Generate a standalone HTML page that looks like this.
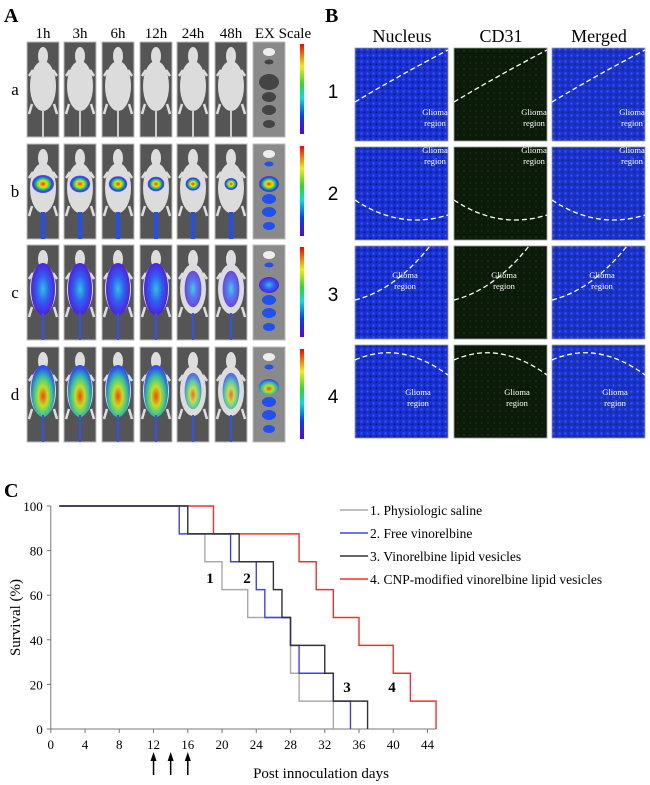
<!DOCTYPE html>
<html><head><meta charset="utf-8"><style>
body{margin:0;background:#fff;width:650px;height:785px;overflow:hidden;font-family:"Liberation Serif",serif;}
svg{display:block}
</style></head><body>
<svg id="fig" width="650" height="785" viewBox="0 0 650 785">
<defs>
<radialGradient id="hotB" cx="50%" cy="50%" r="50%"><stop offset="0" stop-color="#ff3000"/><stop offset="0.35" stop-color="#f0e000"/><stop offset="0.6" stop-color="#20d060"/><stop offset="0.85" stop-color="#2040ff"/><stop offset="1" stop-color="#6020e0" stop-opacity="0.8"/></radialGradient>
<radialGradient id="bluC" cx="50%" cy="50%" r="50%"><stop offset="0" stop-color="#30c0e0"/><stop offset="0.5" stop-color="#3060f0"/><stop offset="1" stop-color="#5020e0"/></radialGradient>
<radialGradient id="hotD" cx="50%" cy="60%" r="55%"><stop offset="0" stop-color="#ff4010"/><stop offset="0.35" stop-color="#c0e020"/><stop offset="0.7" stop-color="#30c0a0"/><stop offset="1" stop-color="#3050f0"/></radialGradient>
<linearGradient id="scale" x1="0" y1="1" x2="0" y2="0"><stop offset="0" stop-color="#6000e0"/><stop offset="0.2" stop-color="#0040ff"/><stop offset="0.4" stop-color="#00e0e0"/><stop offset="0.55" stop-color="#20e020"/><stop offset="0.75" stop-color="#f0f000"/><stop offset="1" stop-color="#ff0000"/></linearGradient>
<pattern id="nuc" width="6" height="6" patternUnits="userSpaceOnUse"><rect width="6" height="6" fill="#1830d0"/><circle cx="1.5" cy="1.5" r="1.2" fill="#3050ff"/><circle cx="4.5" cy="4.2" r="1" fill="#0a1a80"/></pattern>
<pattern id="grn" width="6" height="6" patternUnits="userSpaceOnUse"><rect width="6" height="6" fill="#0c1a0a"/><circle cx="2" cy="3" r="1" fill="#14300e"/></pattern>
<pattern id="mrg" width="6" height="6" patternUnits="userSpaceOnUse"><rect width="6" height="6" fill="#1a30c8"/><circle cx="1.5" cy="1.5" r="1.2" fill="#3050ff"/><circle cx="4.5" cy="4.2" r="1" fill="#10307a"/></pattern>
</defs>
<text x="4" y="22" font-size="20" font-weight="bold">A</text>
<text x="325" y="22" font-size="20" font-weight="bold">B</text>
<text x="4" y="497" font-size="20" font-weight="bold">C</text>
<g id="pa"></g><g id="pb"></g>
<g id="chart"></g>
</svg>
<script>
const NS="http://www.w3.org/2000/svg";
function mk(p,t,a,txt){const e=document.createElementNS(NS,t);for(const k in a)e.setAttribute(k,a[k]);if(txt!==undefined)e.textContent=txt;p.appendChild(e);return e;}
// ---- Panel A
const pa=document.getElementById('pa');
const times=["1h","3h","6h","12h","24h","48h","EX Scale"];
const colX=[27,64,102,140,177,215,253];
const rowY=[42,144,245,347];
const rowL=["a","b","c","d"];
times.forEach((t,i)=>{const e=mk(pa,'text',{x:i<6?colX[i]+16:colX[i]+30,y:38,'font-size':15,'text-anchor':'middle'},t);

});
const fills=[null,'url(#hotB)','url(#bluC)','url(#hotD)'];
rowY.forEach((y,r)=>{
 const l=mk(pa,'text',{x:15,y:y+53,'font-size':17,'text-anchor':'middle'},rowL[r]);
 
 
 for(let c=0;c<7;c++){
  const g=mk(pa,'g',{});
  
  
  const x=colX[c];
  mk(g,'rect',{x:x,y:y,width:32,height:95,fill:c==6?'#8a8a8a':'#555',stroke:'#bbb','stroke-width':1});
  if(c<6){
   mk(g,'ellipse',{cx:x+16,cy:y+14,rx:5,ry:9,fill:'#ddd'});
   mk(g,'ellipse',{cx:x+16,cy:y+44,rx:13,ry:25,fill:'#dcdcdc'});
   mk(g,'path',{d:`M${x+5},${y+62} l-3,10 M${x+27},${y+62} l3,10 M${x+6},${y+28} l-4,6 M${x+26},${y+28} l4,6`,stroke:'#ddd','stroke-width':2.5});
   mk(g,'rect',{x:x+15,y:y+68,width:2,height:27,fill:'#ccc'});
   if(r==1){mk(g,'ellipse',{cx:x+16,cy:y+40,rx:11-c*0.9,ry:9-c*0.6,fill:fills[r]});mk(g,'rect',{x:x+14,y:y+68,width:4,height:27,fill:'#2050f0'});}
   if(r>=2){const s=c>=4?0.7:1;mk(g,'ellipse',{cx:x+16,cy:y+44,rx:12*s,ry:26*s,fill:fills[r],opacity:c>=4?0.8:1});mk(g,'rect',{x:x+15,y:y+68,width:2,height:27,fill:'#3050f0'});}
  } else {
   const oc=r==0?'#444':'#2050f0';
   [[10,4],[20,2.5],[40,8],[55,5],[68,5],[82,4]].forEach((o,k)=>mk(g,'ellipse',{cx:x+16,cy:y+o[0],rx:o[1]+2,ry:o[1],fill:(r>0&&k==2)?fills[r]:(k==0?'#eee':oc)}));
  }
 }
 const sb=mk(pa,'rect',{x:300,y:y+2,width:4,height:90,fill:'url(#scale)'});
 
 
 const n=mk(pa,'text',{x:333,y:y+56,'font-size':19,'font-family':'Liberation Sans, sans-serif','text-anchor':'middle'},String(r+1));
 
 
});
// ---- Panel B
const pb=document.getElementById('pb');
const bHead=["Nucleus","CD31","Merged"];const bX=[355,454,552];const bY=[48,147,246,345];
const bFill=['url(#nuc)','url(#grn)','url(#mrg)'];
const dash=["M355,102 Q400,75 448,50","M355,200 Q400,230 448,215","M355,300 Q395,290 430,246","M355,360 Q400,340 448,375"];
const gl=[[435,120],[435,158],[405,283],[418,400]];
bHead.forEach((h,i)=>{const e=mk(pb,'text',{x:bX[i]+47,y:42,'font-size':18,'text-anchor':'middle'},h);

});
bY.forEach((y,r)=>{for(let c=0;c<3;c++){
 const g=mk(pb,'g',{});
 
 
 const dx=bX[c]-355;
 mk(g,'rect',{x:bX[c],y:y,width:93,height:93,fill:bFill[c],stroke:'#999','stroke-width':0.8});
 mk(g,'path',{d:dash[r],transform:'translate('+dx+',0)',fill:'none',stroke:'#fff','stroke-width':1.3,'stroke-dasharray':'5,3'});
 mk(g,'text',{x:gl[r][0]+dx,y:gl[r][1]-5,'font-size':8.5,fill:'#fff','text-anchor':'middle'},'Glioma');
 mk(g,'text',{x:gl[r][0]+dx,y:gl[r][1]+6,'font-size':8.5,fill:'#fff','text-anchor':'middle'},'region');
}});
// ---- Panel C chart data
const days=[0,4,8,12,16,20,24,28,32,36,40,44];
const yTicks=[0,20,40,60,80,100];
const salineT=[1,16,18,20,23,28,29,33];
const salineS=[100,87.5,75,62.5,50,25,12.5,0];
const freeT=[1,15,21,24,25,28,29,33,35];
const freeS=[100,87.5,75,62.5,50,37.5,25,12.5,0];
const vesT=[1,16,22,26,27,28,32,33,37];
const vesS=[100,87.5,75,62.5,50,37.5,25,12.5,0];
const cnpT=[1,19,29,31,33,36,40,42,45];
const cnpS=[100,87.5,75,62.5,50,37.5,25,12.5,0];
const legendNames=["1. Physiologic saline","2. Free vinorelbine","3. Vinorelbine lipid vesicles","4. CNP-modified vinorelbine lipid vesicles"];
const arrowDays=[12,14,16];
const X=d=>50.8+d*(427.5-50.8)/44, Y=v=>729-v*(729-506)/100;
const ch=document.getElementById('chart');
const ax=mk(ch,'path',{d:`M${X(0)},${Y(100)} V${Y(0)} H${X(45)}`,fill:'none',stroke:'#777','stroke-width':1});


yTicks.forEach(v=>{mk(ch,'line',{x1:X(0)-4,x2:X(0),y1:Y(v),y2:Y(v),stroke:'#777'});
 const t=mk(ch,'text',{x:X(0)-8,y:Y(v)+5,'font-size':13,'text-anchor':'end'},String(v));
 
 });
days.forEach(d=>{mk(ch,'line',{x1:X(d),x2:X(d),y1:Y(0),y2:Y(0)+4,stroke:'#777'});
 const t=mk(ch,'text',{x:X(d),y:Y(0)+20,'font-size':13,'text-anchor':'middle'},String(d));
 
 });
const yt=mk(ch,'text',{x:0,y:0,'font-size':15,'text-anchor':'middle',transform:`translate(20,${Y(50)}) rotate(-90)`},'Survival (%)');


const xt=mk(ch,'text',{x:321,y:778,'font-size':15,'text-anchor':'middle'},'Post innoculation days');


function stepPath(T,S){let d=`M${X(T[0])},${Y(S[0])}`;for(let i=1;i<T.length;i++){d+=` H${X(T[i])} V${Y(S[i])}`;}return d;}
const series=[[salineT,salineS,'#aaa','saline'],[freeT,freeS,'#4040f0','free-vinorelbine'],[vesT,vesS,'#333','lipid-vesicles'],[cnpT,cnpS,'#f03030','cnp-lipid-vesicles']];
[3,0,1,2].forEach(i=>{const s=series[i];const p=mk(ch,'path',{d:stepPath(s[0],s[1]),fill:'none',stroke:s[2],'stroke-width':1.4});
 
 });
legendNames.forEach((n,i)=>{const g=mk(ch,'g',{});
 
 
 const y=510+i*23;
 mk(g,'line',{x1:340,x2:368,y1:y,y2:y,stroke:series[i][2],'stroke-width':1.5});
 mk(g,'text',{x:370,y:y+5,'font-size':13.5},n);});
[[210,583,'1'],[247,583,'2'],[347,692,'3'],[392,692,'4']].forEach(a=>{const t=mk(ch,'text',{x:a[0],y:a[1],'font-size':15,'font-weight':'bold','text-anchor':'middle'},a[2]);
 
 });
arrowDays.forEach(d=>{const g=mk(ch,'g',{});
 
 
 mk(g,'line',{x1:X(d),x2:X(d),y1:760,y2:775,stroke:'#000','stroke-width':1.5});
 mk(g,'path',{d:`M${X(d)-3},761 L${X(d)},752 L${X(d)+3},761Z`,fill:'#000'});});
</script>
</body></html>
